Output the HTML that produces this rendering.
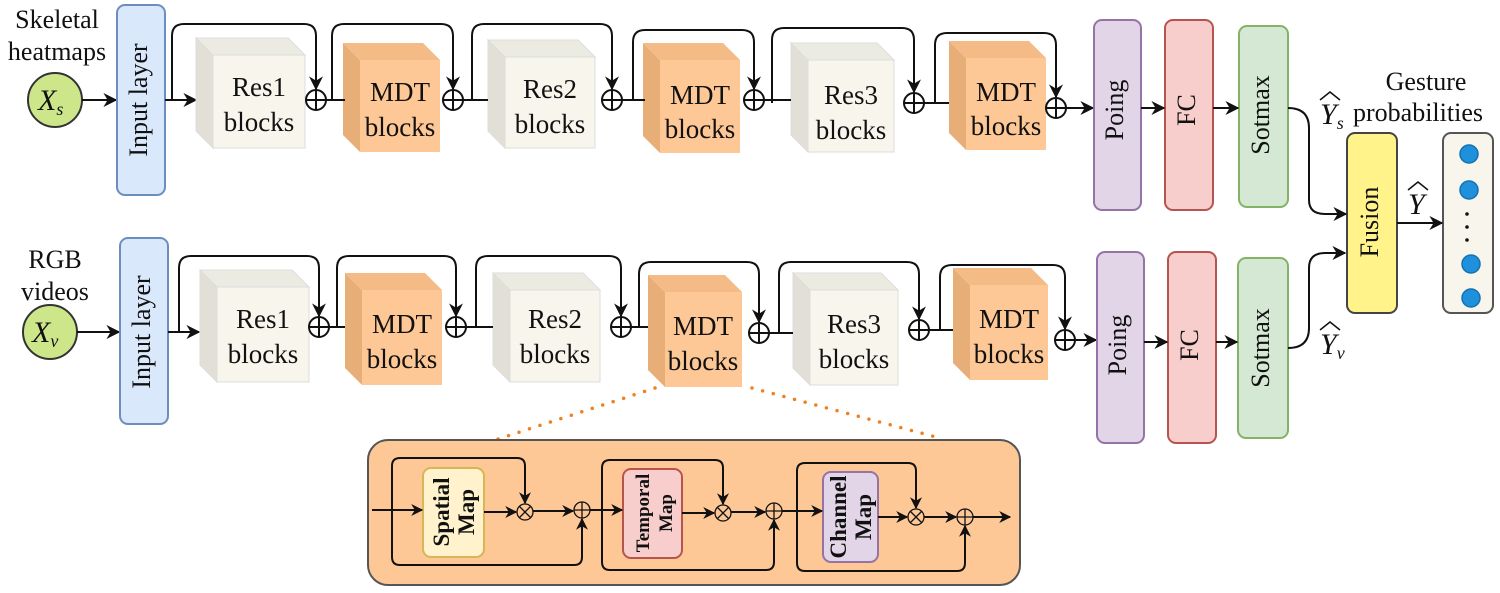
<!DOCTYPE html>
<html><head><meta charset="utf-8"><style>
html,body{margin:0;padding:0;background:#fff;}
svg{display:block;font-family:"Liberation Serif",serif;}
</style></head><body>
<svg width="1500" height="593" viewBox="0 0 1500 593" xmlns="http://www.w3.org/2000/svg">
<defs>
<marker id="a" viewBox="0 0 10 10" refX="9" refY="5" markerWidth="12" markerHeight="12" orient="auto" markerUnits="userSpaceOnUse"><path d="M0,0 L10,5 L0,10 L3,5 z" fill="#111"/></marker>
<marker id="b" viewBox="0 0 10 10" refX="9" refY="5" markerWidth="14" markerHeight="14" orient="auto" markerUnits="userSpaceOnUse"><path d="M0,0 L10,5 L0,10 L3,5 z" fill="#111"/></marker>
</defs>
<g fill="none" stroke="#111" stroke-width="2">
<circle cx="55" cy="100" r="27" fill="#cde68a" stroke="#333"/>
<line x1="82" y1="100" x2="116" y2="100" marker-end="url(#b)"/>
<rect x="117" y="5" width="48" height="190" rx="8" fill="#dae8fc" stroke="#6c8ebf"/>
<line x1="165" y1="100" x2="196" y2="100" marker-end="url(#b)"/>
<circle cx="50" cy="332" r="27" fill="#cde68a" stroke="#333"/>
<line x1="77" y1="332" x2="119" y2="332" marker-end="url(#b)"/>
<rect x="120" y="238" width="48" height="186" rx="8" fill="#dae8fc" stroke="#6c8ebf"/>
<line x1="168" y1="332" x2="199" y2="332" marker-end="url(#b)"/>
</g>
<g stroke="#ddd" stroke-width="1">
<polygon points="196,38 213,55 213,148 196,131" fill="#e2e0d6"/><polygon points="196,38 288,38 305,55 213,55" fill="#ecebe2"/><rect x="213" y="55" width="92" height="93" fill="#f8f6ec"/>
<polygon points="343,43 360,60 360,152 343,135" fill="#e8ae78" stroke="none"/><polygon points="343,43 423,43 440,60 360,60" fill="#f4bb86" stroke="none"/><rect x="360" y="60" width="80" height="92" fill="#fdc896" stroke="none"/>
<polygon points="488,40 505,57 505,148 488,131" fill="#e2e0d6"/><polygon points="488,40 578,40 595,57 505,57" fill="#ecebe2"/><rect x="505" y="57" width="90" height="91" fill="#f8f6ec"/>
<polygon points="643,43 660,60 660,153 643,136" fill="#e8ae78" stroke="none"/><polygon points="643,43 723,43 740,60 660,60" fill="#f4bb86" stroke="none"/><rect x="660" y="60" width="80" height="93" fill="#fdc896" stroke="none"/>
<polygon points="791,43 808,60 808,152 791,135" fill="#e2e0d6"/><polygon points="791,43 877,43 894,60 808,60" fill="#ecebe2"/><rect x="808" y="60" width="86" height="92" fill="#f8f6ec"/>
<polygon points="949,41 966,58 966,150 949,133" fill="#e8ae78" stroke="none"/><polygon points="949,41 1029,41 1046,58 966,58" fill="#f4bb86" stroke="none"/><rect x="966" y="58" width="80" height="92" fill="#fdc896" stroke="none"/>
<polygon points="200,270 217,287 217,382 200,365" fill="#e2e0d6"/><polygon points="200,270 292,270 309,287 217,287" fill="#ecebe2"/><rect x="217" y="287" width="92" height="95" fill="#f8f6ec"/>
<polygon points="345,273 362,290 362,385 345,368" fill="#e8ae78" stroke="none"/><polygon points="345,273 425,273 442,290 362,290" fill="#f4bb86" stroke="none"/><rect x="362" y="290" width="80" height="95" fill="#fdc896" stroke="none"/>
<polygon points="493,273 510,290 510,382 493,365" fill="#e2e0d6"/><polygon points="493,273 583,273 600,290 510,290" fill="#ecebe2"/><rect x="510" y="290" width="90" height="92" fill="#f8f6ec"/>
<polygon points="648,275 665,292 665,387 648,370" fill="#e8ae78" stroke="none"/><polygon points="648,275 725,275 742,292 665,292" fill="#f4bb86" stroke="none"/><rect x="665" y="292" width="77" height="95" fill="#fdc896" stroke="none"/>
<polygon points="793,273 810,290 810,385 793,368" fill="#e2e0d6"/><polygon points="793,273 881,273 898,290 810,290" fill="#ecebe2"/><rect x="810" y="290" width="88" height="95" fill="#f8f6ec"/>
<polygon points="953,268 970,285 970,380 953,363" fill="#e8ae78" stroke="none"/><polygon points="953,268 1031,268 1048,285 970,285" fill="#f4bb86" stroke="none"/><rect x="970" y="285" width="78" height="95" fill="#fdc896" stroke="none"/>
</g>
<g font-size="27" fill="#111" text-anchor="middle">
<text x="259" y="96">Res1</text><text x="259" y="131">blocks</text>
<text x="400" y="101">MDT</text><text x="400" y="136">blocks</text>
<text x="550" y="98">Res2</text><text x="550" y="133">blocks</text>
<text x="700" y="104">MDT</text><text x="700" y="138">blocks</text>
<text x="851" y="104">Res3</text><text x="851" y="139">blocks</text>
<text x="1006" y="101">MDT</text><text x="1006" y="135">blocks</text>
<text x="263" y="328">Res1</text><text x="263" y="363">blocks</text>
<text x="402" y="333">MDT</text><text x="402" y="368">blocks</text>
<text x="555" y="328">Res2</text><text x="555" y="363">blocks</text>
<text x="703" y="335">MDT</text><text x="703" y="370">blocks</text>
<text x="854" y="333">Res3</text><text x="854" y="368">blocks</text>
<text x="1009" y="328">MDT</text><text x="1009" y="363">blocks</text>
</g>
<g fill="none" stroke="#111" stroke-width="2">
<g fill="#fff">
<circle cx="316" cy="100" r="10"/><circle cx="453" cy="100" r="10"/><circle cx="612" cy="100" r="10"/><circle cx="754" cy="100" r="10"/><circle cx="914" cy="103" r="10"/><circle cx="1056" cy="108" r="10"/>
<circle cx="319" cy="327" r="10"/><circle cx="456" cy="327" r="10"/><circle cx="621" cy="327" r="10"/><circle cx="759" cy="333" r="10"/><circle cx="919" cy="330" r="10"/><circle cx="1065" cy="340" r="10"/>
</g>
<path d="M306,100h20M316,90v20M443,100h20M453,90v20M602,100h20M612,90v20M744,100h20M754,90v20M904,103h20M914,93v20M1046,108h20M1056,98v20"/>
<path d="M309,327h20M319,317v20M446,327h20M456,317v20M611,327h20M621,317v20M749,333h20M759,323v20M909,330h20M919,320v20M1055,340h20M1065,330v20"/>
<path d="M326,100H345M463,100H488M622,100H645M764,100H791M924,103H949"/>
<line x1="1066" y1="108" x2="1093" y2="108" marker-end="url(#b)"/>
<path d="M172,100V36Q172,24 184,24H304Q316,24 316,36V89" marker-end="url(#b)"/>
<path d="M332,100V36Q332,24 344,24H441Q453,24 453,36V89" marker-end="url(#b)"/>
<path d="M472,100V36Q472,24 484,24H600Q612,24 612,36V89" marker-end="url(#b)"/>
<path d="M633,100V42Q633,30 645,30H742Q754,30 754,42V89" marker-end="url(#b)"/>
<path d="M772,103V40Q772,28 784,28H902Q914,28 914,40V92" marker-end="url(#b)"/>
<path d="M935,103V45Q935,33 947,33H1044Q1056,33 1056,45V97" marker-end="url(#b)"/>
<path d="M329,327H345M466,327H493M631,327H648M769,333H793M929,330H953"/>
<line x1="1075" y1="340" x2="1096" y2="340" marker-end="url(#b)"/>
<path d="M179,332V268Q179,256 191,256H307Q319,256 319,268V316" marker-end="url(#b)"/>
<path d="M337,327V268Q337,256 349,256H444Q456,256 456,268V316" marker-end="url(#b)"/>
<path d="M476,327V268Q476,256 488,256H609Q621,256 621,268V316" marker-end="url(#b)"/>
<path d="M639,327V274Q639,262 651,262H747Q759,262 759,274V322" marker-end="url(#b)"/>
<path d="M779,333V274Q779,262 791,262H907Q919,262 919,274V319" marker-end="url(#b)"/>
<path d="M940,330V277Q940,265 952,265H1053Q1065,265 1065,277V329" marker-end="url(#b)"/>
</g>
<g stroke-width="2">
<rect x="1094" y="20" width="47" height="190" rx="8" fill="#e1d5e7" stroke="#9673a6"/>
<rect x="1165" y="20" width="48" height="190" rx="8" fill="#f8cecc" stroke="#b85450"/>
<rect x="1239" y="26" width="49" height="181" rx="8" fill="#d5e8d4" stroke="#82b366"/>
<rect x="1097" y="252" width="47" height="191" rx="8" fill="#e1d5e7" stroke="#9673a6"/>
<rect x="1168" y="252" width="48" height="191" rx="8" fill="#f8cecc" stroke="#b85450"/>
<rect x="1238" y="258" width="50" height="180" rx="8" fill="#d5e8d4" stroke="#82b366"/>
<rect x="1347" y="133" width="50" height="180" rx="8" fill="#fff38a" stroke="#444"/>
<rect x="1443" y="133" width="50" height="180" rx="8" fill="#f8f6ec" stroke="#555"/>
</g>
<g fill="#1e90dc" stroke="#1572b0" stroke-width="1.5">
<circle cx="1469" cy="154" r="9"/><circle cx="1469" cy="190" r="9"/><circle cx="1471" cy="264" r="9"/><circle cx="1471" cy="298" r="9"/>
</g>
<g fill="#111"><circle cx="1467" cy="214" r="1.8"/><circle cx="1467" cy="227" r="1.8"/><circle cx="1467" cy="240" r="1.8"/></g>
<g fill="none" stroke="#111" stroke-width="2">
<line x1="1141" y1="108" x2="1164" y2="108" marker-end="url(#b)"/>
<line x1="1213" y1="108" x2="1238" y2="108" marker-end="url(#b)"/>
<line x1="1144" y1="342" x2="1167" y2="342" marker-end="url(#b)"/>
<line x1="1216" y1="342" x2="1237" y2="342" marker-end="url(#b)"/>
<path d="M1288,108Q1309,108 1309,128V200Q1309,214 1325,214H1346" marker-end="url(#b)"/>
<path d="M1288,348Q1309,348 1309,328V268Q1309,253 1325,253H1345" marker-end="url(#b)"/>
<line x1="1397" y1="223" x2="1442" y2="223" marker-end="url(#b)"/>
</g>
<g font-size="26" fill="#111" text-anchor="middle">
<text transform="translate(141,100) rotate(-90)" dominant-baseline="middle">Input layer</text>
<text transform="translate(144,332) rotate(-90)" dominant-baseline="middle">Input layer</text>
<text transform="translate(1117,110) rotate(-90)" dominant-baseline="middle">Poing</text>
<text transform="translate(1189,110) rotate(-90)" dominant-baseline="middle">FC</text>
<text transform="translate(1263,115) rotate(-90)" dominant-baseline="middle">Sotmax</text>
<text transform="translate(1120,345) rotate(-90)" dominant-baseline="middle">Poing</text>
<text transform="translate(1192,345) rotate(-90)" dominant-baseline="middle">FC</text>
<text transform="translate(1263,348) rotate(-90)" dominant-baseline="middle">Sotmax</text>
<text transform="translate(1372,222) rotate(-90)" dominant-baseline="middle">Fusion</text>
<text x="57" y="28">Skeletal</text><text x="57" y="60">heatmaps</text>
<text x="55" y="268">RGB</text><text x="55" y="300">videos</text>
<text x="1426" y="90">Gesture</text><text x="1418" y="121">probabilities</text>
</g>
<g font-style="italic" fill="#111">
<text x="38" y="110" font-size="30">X<tspan font-size="18" dy="5">s</tspan></text>
<text x="32" y="342" font-size="30">X<tspan font-size="18" dy="5">v</tspan></text>
<text x="1320" y="124" font-size="30">Y<tspan font-size="18" dy="5">s</tspan></text>
<text x="1320" y="354" font-size="30">Y<tspan font-size="18" dy="5">v</tspan></text>
<text x="1408" y="214" font-size="30">Y</text>
</g>
<g fill="none" stroke="#111" stroke-width="1.5">
<path d="M1320,100l10,-8l10,8M1320,330l10,-8l10,8M1408,190l10,-8l10,8"/>
</g>
<g stroke="#f07f20" stroke-width="3.5" stroke-dasharray="0 11" stroke-linecap="round">
<line x1="655" y1="388" x2="495" y2="440"/>
<line x1="752" y1="388" x2="936" y2="437"/>
</g>
<rect x="368" y="440" width="652" height="145" rx="20" fill="#fdc896" stroke="#555" stroke-width="2"/>
<g stroke-width="2">
<rect x="423" y="468" width="61" height="89" rx="8" fill="#fff2cc" stroke="#d6b656"/>
<rect x="623" y="469" width="59" height="89" rx="8" fill="#f8cecc" stroke="#b85450"/>
<rect x="823" y="472" width="55" height="90" rx="8" fill="#e1d5e7" stroke="#9673a6"/>
</g>
<g font-weight="bold" fill="#111" text-anchor="middle">
<text transform="translate(453,512) rotate(-90)" font-size="23"><tspan x="0" dy="-4">Spatial</tspan><tspan x="0" dy="25">Map</tspan></text>
<text transform="translate(652,513) rotate(-90)" font-size="19"><tspan x="0" dy="-3">Temporal</tspan><tspan x="0" dy="23">Map</tspan></text>
<text transform="translate(850,517) rotate(-90)" font-size="23"><tspan x="0" dy="-4">Channel</tspan><tspan x="0" dy="25">Map</tspan></text>
</g>
<g fill="none" stroke="#111" stroke-width="2">
<g fill="#fdc896" stroke-width="1.3">
<circle cx="525" cy="512" r="8"/><circle cx="582" cy="510" r="8"/>
<circle cx="723" cy="513" r="8"/><circle cx="774" cy="511" r="8"/>
<circle cx="916" cy="517" r="8"/><circle cx="965" cy="517" r="8"/>
</g>
<path stroke-width="1.3" d="M519.5,506.5l11,11M530.5,506.5l-11,11M717.5,507.5l11,11M728.5,507.5l-11,11M910.5,511.5l11,11M921.5,511.5l-11,11M574,510h16M582,502v16M766,511h16M774,503v16M957,517h16M965,509v16"/>
<line x1="372" y1="510" x2="422" y2="510" marker-end="url(#a)"/>
<path d="M392,510V466Q392,458 400,458H517Q525,458 525,466V503" marker-end="url(#a)"/>
<path d="M392,510V557Q392,565 400,565H574Q582,565 582,557V519" marker-end="url(#a)"/>
<line x1="484" y1="512" x2="516" y2="512" marker-end="url(#a)"/>
<line x1="533" y1="511" x2="573" y2="511" marker-end="url(#a)"/>
<line x1="590" y1="510" x2="622" y2="510" marker-end="url(#a)"/>
<path d="M602,510V468Q602,460 610,460H715Q723,460 723,468V504" marker-end="url(#a)"/>
<path d="M602,510V562Q602,570 610,570H766Q774,570 774,562V520" marker-end="url(#a)"/>
<line x1="682" y1="513" x2="714" y2="513" marker-end="url(#a)"/>
<line x1="731" y1="512" x2="765" y2="512" marker-end="url(#a)"/>
<line x1="782" y1="511" x2="822" y2="511" marker-end="url(#a)"/>
<path d="M797,511V471Q797,463 805,463H908Q916,463 916,471V508" marker-end="url(#a)"/>
<path d="M797,511V563Q797,571 805,571H957Q965,571 965,563V526" marker-end="url(#a)"/>
<line x1="878" y1="517" x2="907" y2="517" marker-end="url(#a)"/>
<line x1="924" y1="517" x2="956" y2="517" marker-end="url(#a)"/>
<line x1="973" y1="517" x2="1010" y2="517" marker-end="url(#a)"/>
</g>
</svg>
</body></html>
